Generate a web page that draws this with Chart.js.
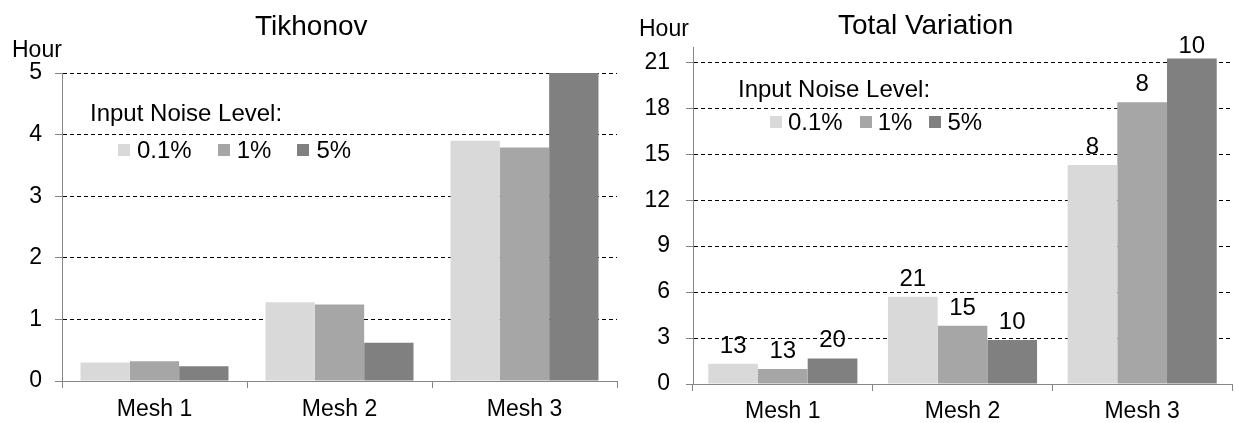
<!DOCTYPE html>
<html>
<head>
<meta charset="utf-8">
<script src="https://cdn.jsdelivr.net/npm/chart.js@4.4.1/dist/chart.umd.min.js"></script>
<style>
  body { margin: 0; background: #fff; color: #000; font-family: "Liberation Sans", Arial, sans-serif; }
  #page { position: relative; width: 1235px; height: 423px; overflow: hidden; }
  canvas { position: absolute; top: 0; }
  .txt { position: absolute; white-space: nowrap; line-height: 1; }
  .title { font-size: 28px; }
  .unit { font-size: 23px; }
  .legend-title { position: absolute; font-size: 24px; line-height: 1; white-space: nowrap; }
  .legend-row { position: absolute; display: flex; align-items: center; font-size: 24px; line-height: 24px; white-space: nowrap; }
  .sw { width: 12px; height: 12px; }
</style>
</head>
<body>
<div id="page">
  <canvas id="tikhonov" width="620" height="423" style="left:0"></canvas>
  <canvas id="tv" width="615" height="423" style="left:620px"></canvas>

  <div class="txt title" style="left:255px; top:12px">Tikhonov</div>
  <div class="txt title" style="left:838px; top:11px">Total Variation</div>
  <div class="txt unit" style="left:12px; top:38px">Hour</div>
  <div class="txt unit" style="left:639px; top:17px">Hour</div>

  <div class="legend-title" style="left:90px; top:101px">Input Noise Level:</div>
  <div class="legend-row" id="legendLeft" style="left:118px; top:138px"></div>
  <div class="legend-title" style="left:738px; top:77px">Input Noise Level:</div>
  <div class="legend-row" id="legendRight" style="left:770px; top:110px"></div>
</div>

<script>
const meshes = ['Mesh 1', 'Mesh 2', 'Mesh 3'];
const noiseLevels = ['0.1%', '1%', '5%'];
const barColors = ['#d9d9d9', '#a6a6a6', '#808080'];

// Tikhonov, hours
const tikhonov01 = [0.30, 1.28, 3.90];
const tikhonov1 = [0.32, 1.24, 3.79];
const tikhonov5 = [0.24, 0.62, 5.00];
const tikhonovTicks = [0, 1, 2, 3, 4, 5];

// Total Variation, hours
const tv01 = [1.32, 5.70, 14.30];
const tv1 = [0.98, 3.80, 18.40];
const tv5 = [1.67, 2.87, 21.25];
const tvTicks = [0, 3, 6, 9, 12, 15, 18, 21];

// numbers written above the Total Variation bars
const tvIter01 = [13, 21, 8];
const tvIter1 = [13, 15, 8];
const tvIter5 = [20, 10, 10];

const fontFamily = '"Liberation Sans", Arial, sans-serif';
const axisGray = '#868686';

function buildLegend(id, textGap, itemGap) {
    let row = document.getElementById(id);
    noiseLevels.forEach((level, i) => {
        let sw = document.createElement('span');
        sw.className = 'sw';
        sw.style.background = barColors[i];
        sw.style.marginLeft = i === 0 ? '0px' : itemGap + 'px';
        sw.style.marginRight = textGap + 'px';
        let label = document.createElement('span');
        label.textContent = level;
        row.appendChild(sw);
        row.appendChild(label);
    });
}

function buildChart(id, series, cfg) {
    let datasets = series.map((data, i) => ({
        label: noiseLevels[i],
        data: data,
        backgroundColor: barColors[i],
        borderWidth: 0,
        categoryPercentage: cfg.groupWidth,
        barPercentage: 1
    }));

    return new Chart(document.getElementById(id), {
        type: 'bar',
        data: { labels: meshes, datasets: datasets },
        options: {
            responsive: false,
            animation: false,
            layout: { padding: { top: cfg.top, right: cfg.right, left: 0, bottom: 0 } },
            plugins: { legend: { display: false }, tooltip: { enabled: false } },
            scales: {
                x: {
                    grid: { color: axisGray, drawOnChartArea: false, tickLength: 7, offset: true },
                    border: { color: axisGray },
                    ticks: { font: { family: fontFamily, size: 23 }, color: '#000', padding: cfg.xPad, maxRotation: 0 },
                    afterFit: scale => { scale.height = cfg.xHeight; }
                },
                y: {
                    min: 0,
                    max: cfg.max,
                    afterBuildTicks: scale => { scale.ticks = cfg.ticks.map(v => ({ value: v })); },
                    grid: {
                        color: ctx => (ctx.tick && ctx.tick.value === 0) ? 'rgba(0,0,0,0)' : '#000',
                        tickColor: axisGray,
                        tickLength: 7,
                        tickBorderDash: []
                    },
                    border: { color: axisGray, dash: [4, 3] },
                    ticks: { font: { family: fontFamily, size: 23 }, color: '#000', padding: cfg.yPad },
                    afterFit: scale => { scale.width = cfg.yWidth; }
                }
            }
        },
        plugins: cfg.plugins || []
    });
}

const barNumbers = {
    id: 'barNumbers',
    afterDatasetsDraw(chart) {
        let ctx = chart.ctx;
        let iters = [tvIter01, tvIter1, tvIter5];
        ctx.save();
        ctx.font = '24px ' + fontFamily;
        ctx.fillStyle = '#000';
        ctx.textAlign = 'center';
        ctx.textBaseline = 'alphabetic';
        iters.forEach((values, i) => {
            chart.getDatasetMeta(i).data.forEach((bar, j) => {
                let y = Math.max(bar.y - 11, 53);
                ctx.fillText(String(values[j]), bar.x, y);
            });
        });
        ctx.restore();
    }
};

buildChart('tikhonov', [tikhonov01, tikhonov1, tikhonov5], {
    max: 5, ticks: tikhonovTicks, groupWidth: 0.8,
    top: 73, right: 3, xHeight: 42, yWidth: 62, xPad: 8, yPad: 13
});

buildChart('tv', [tv01, tv1, tv5], {
    max: 22, ticks: tvTicks, groupWidth: 0.83,
    top: 47, right: 3, xHeight: 39, yWidth: 73, xPad: 7, yPad: 16,
    plugins: [barNumbers]
});

buildLegend('legendLeft', 7, 26);
buildLegend('legendRight', 6, 17);
</script>
</body>
</html>
